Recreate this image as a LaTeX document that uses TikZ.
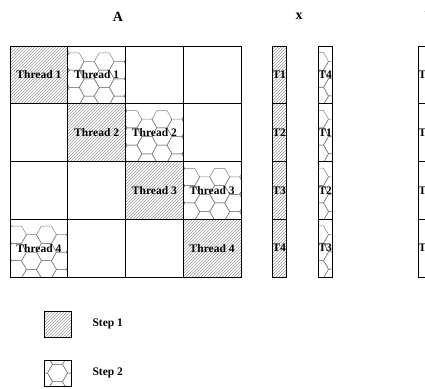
\documentclass[tikz,border=0pt]{standalone}
\usepackage{fontspec}
\setmainfont{Liberation Serif}
\usetikzlibrary{patterns}

\newcommand{\myhexgrid}{%
  \foreach \i in {-1,...,6}{%
    \foreach \j in {-1,...,4}{%
      \pgfmathsetmacro{\cx}{\i*15}%
      \pgfmathsetmacro{\cy}{\j*17.32+mod(\i,2)*8.66}%
      \draw[hexline] (\cx,\cy) +(0:10) -- +(60:10) -- +(120:10) -- +(180:10) -- +(240:10) -- +(300:10) -- cycle;
    }%
  }%
}

\tikzset{
  lbl/.style={font=\bfseries\fontsize{11.5}{13}\selectfont},
  ttl/.style={font=\bfseries\fontsize{14}{16}\selectfont},
  cell/.style={draw=black, line width=0.8pt, minimum width=57.75pt, minimum height=57.75pt, inner sep=0pt, lbl},
  vec/.style={draw=black, line width=0.8pt, minimum width=14.5pt, minimum height=57.75pt, inner sep=0pt, lbl},
  legbox/.style={draw=black, line width=0.8pt, minimum width=27pt, minimum height=26pt, inner sep=0pt},
  hatch/.style={pattern=north east lines, pattern color=black!40},
  hexline/.style={draw=black!50, line width=0.5pt},
  hexfill/.style={path picture={\begin{scope}[shift={(path picture bounding box.north west)}]\myhexgrid\end{scope}}},
}

\begin{document}
\begin{tikzpicture}[x=1pt,y=-1pt]
\useasboundingbox (0,0) rectangle (425,388);

% titles
\node[ttl] (tA) at (118,16.5) {A};
\node[ttl] (tx) at (299,16.5) {x};
\node[ttl] (tb) at (428.5,16.5) {b};

% matrix A
\node[cell, hatch]   (a11) at (38.875,74.875) {Thread 1};
\node[cell, hexfill] (a12) at (96.625,74.875) {Thread 1};
\node[cell]          (a13) at (154.375,74.875) {};
\node[cell]          (a14) at (212.125,74.875) {};

\node[cell]          (a21) at (38.875,132.625) {};
\node[cell, hatch]   (a22) at (96.625,132.625) {Thread 2};
\node[cell, hexfill] (a23) at (154.375,132.625) {Thread 2};
\node[cell]          (a24) at (212.125,132.625) {};

\node[cell]          (a31) at (38.875,190.375) {};
\node[cell]          (a32) at (96.625,190.375) {};
\node[cell, hatch]   (a33) at (154.375,190.375) {Thread 3};
\node[cell, hexfill] (a34) at (212.125,190.375) {Thread 3};

\node[cell, hexfill] (a41) at (38.875,248.125) {Thread 4};
\node[cell]          (a42) at (96.625,248.125) {};
\node[cell]          (a43) at (154.375,248.125) {};
\node[cell, hatch]   (a44) at (212.125,248.125) {Thread 4};

% vector x (step 1)
\node[vec, hatch] (x1) at (279.25,74.875) {T1};
\node[vec, hatch] (x2) at (279.25,132.625) {T2};
\node[vec, hatch] (x3) at (279.25,190.375) {T3};
\node[vec, hatch] (x4) at (279.25,248.125) {T4};

% vector x (step 2)
\node[vec, hexfill] (y1) at (325.25,74.875) {T4};
\node[vec, hexfill] (y2) at (325.25,132.625) {T1};
\node[vec, hexfill] (y3) at (325.25,190.375) {T2};
\node[vec, hexfill] (y4) at (325.25,248.125) {T3};

% vector b (cut by the right edge, as in the reference)
\node[vec] (b1) at (425.25,74.875) {T1};
\node[vec] (b2) at (425.25,132.625) {T2};
\node[vec] (b3) at (425.25,190.375) {T3};
\node[vec] (b4) at (425.25,248.125) {T4};

% legend
\node[legbox, hatch]   (s1) at (57.5,324) {};
\node[lbl, anchor=west] (s1t) at (89,323.5) {Step 1};
\node[legbox, hexfill] (s2) at (57.5,373) {};
\node[lbl, anchor=west] (s2t) at (89,372.5) {Step 2};
\end{tikzpicture}
\end{document}
